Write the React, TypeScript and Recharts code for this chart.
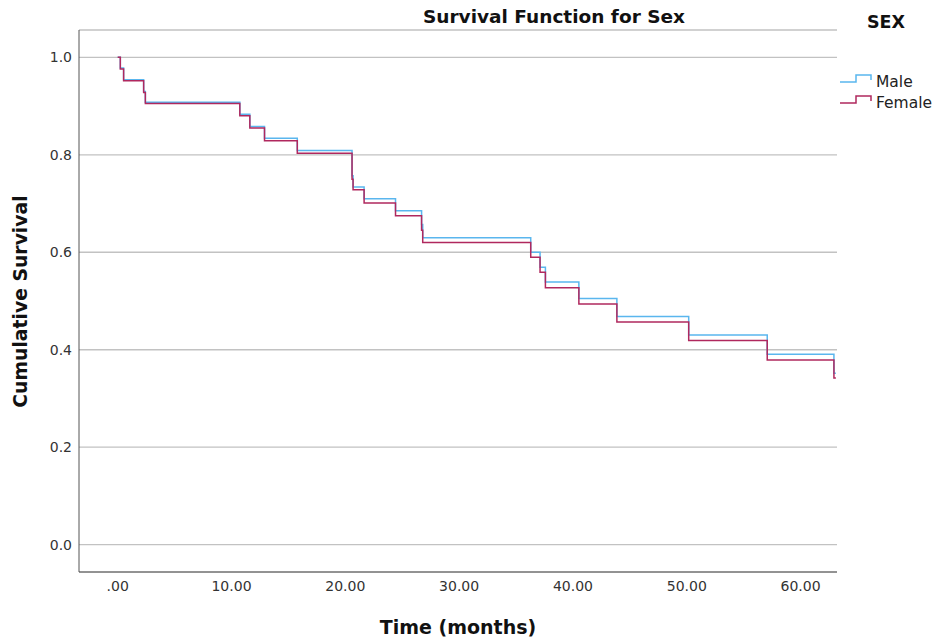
import React from "react";
import { LineChart, Line, XAxis, YAxis, CartesianGrid } from "recharts";

const times = [0, 0.23, 0.52, 2.28, 2.43, 10.73, 11.61, 12.9, 15.78, 20.59, 20.68, 21.65, 24.41, 26.7, 26.8, 36.29, 37.11, 37.58, 40.52, 43.86, 50.17, 57.07, 62.93, 63.1];
const maleSurvival = [1.0, 0.978, 0.954, 0.93, 0.908, 0.883, 0.858, 0.834, 0.809, 0.757, 0.734, 0.71, 0.685, 0.657, 0.63, 0.6, 0.569, 0.539, 0.505, 0.468, 0.43, 0.391, 0.352, 0.352];
const femaleSurvival = [1.0, 0.976, 0.952, 0.928, 0.905, 0.88, 0.855, 0.829, 0.803, 0.75, 0.728, 0.701, 0.675, 0.645, 0.62, 0.59, 0.559, 0.527, 0.494, 0.457, 0.419, 0.379, 0.342, 0.342];
const xTicks = [0, 10, 20, 30, 40, 50, 60];
const yTicks = [0, 0.2, 0.4, 0.6, 0.8, 1.0];
const seriesNames = ["Male", "Female"];
const seriesColors = ["#5ab6ee", "#b0285e"];

const data = times.map((t, i) => ({ t, male: maleSurvival[i], female: femaleSurvival[i] }));

const FONT = "'DejaVu Sans', sans-serif";

const fmtX = (v: number) => (v === 0 ? ".00" : v.toFixed(2));

export default function App() {
  return (
    <div style={{ position: "absolute", left: 0, top: 0, width: 934, height: 641, background: "#fff" }}>
      <LineChart width={934} height={641} data={data} margin={{ top: 30, right: 97, bottom: 0, left: 0 }}>
        <CartesianGrid horizontal={true} vertical={false} stroke="#c2c2c2" strokeWidth={1.3} />
        <XAxis
          dataKey="t"
          type="number"
          domain={[-3.4, 63.2]}
          ticks={xTicks}
          tickFormatter={fmtX}
          height={69}
          tickLine={false}
          tickMargin={3}
          axisLine={{ stroke: "#555", strokeWidth: 1 }}
          tick={{ fontSize: 14, fill: "#333", fontFamily: FONT }}
          allowDataOverflow
        />
        <YAxis
          type="number"
          domain={[-0.056, 1.056]}
          ticks={yTicks}
          tickFormatter={(v: number) => v.toFixed(1)}
          width={79}
          tickLine={false}
          tickMargin={1}
          axisLine={{ stroke: "#555", strokeWidth: 1 }}
          tick={{ fontSize: 14, fill: "#333", fontFamily: FONT }}
          allowDataOverflow
        />
        <Line type="stepAfter" dataKey="male" stroke={seriesColors[0]} strokeWidth={1.5} dot={false} isAnimationActive={false} />
        <Line type="stepAfter" dataKey="female" stroke={seriesColors[1]} strokeWidth={1.5} dot={false} isAnimationActive={false} />
      </LineChart>
      <svg width={934} height={641} style={{ position: "absolute", left: 0, top: 0, pointerEvents: "none" }}>
        <text x={554} y={23} textAnchor="middle" fontFamily={FONT} fontWeight="bold" fontSize={18.5} fill="#111">
          Survival Function for Sex
        </text>
        <text x={458} y={634} textAnchor="middle" fontFamily={FONT} fontWeight="bold" fontSize={19} fill="#111">
          Time (months)
        </text>
        <text
          x={0}
          y={0}
          transform="translate(27,301.5) rotate(-90)"
          textAnchor="middle"
          fontFamily={FONT}
          fontWeight="bold"
          fontSize={18.8}
          fill="#111"
        >
          Cumulative Survival
        </text>
        <text x={886} y={28} textAnchor="middle" fontFamily={FONT} fontWeight="bold" fontSize={17.5} fill="#111">
          SEX
        </text>
        {seriesNames.map((name, i) => {
          const base = 82 + i * 21;
          return (
            <g key={name}>
              <polyline
                points={`840,${base} 856,${base} 856,${base - 7} 871,${base - 7} 871,${base - 2}`}
                fill="none"
                stroke={seriesColors[i]}
                strokeWidth={1.5}
              />
              <text x={876} y={base + 4.5} fontFamily={FONT} fontSize={15.5} fill="#222">
                {name}
              </text>
            </g>
          );
        })}
      </svg>
    </div>
  );
}
